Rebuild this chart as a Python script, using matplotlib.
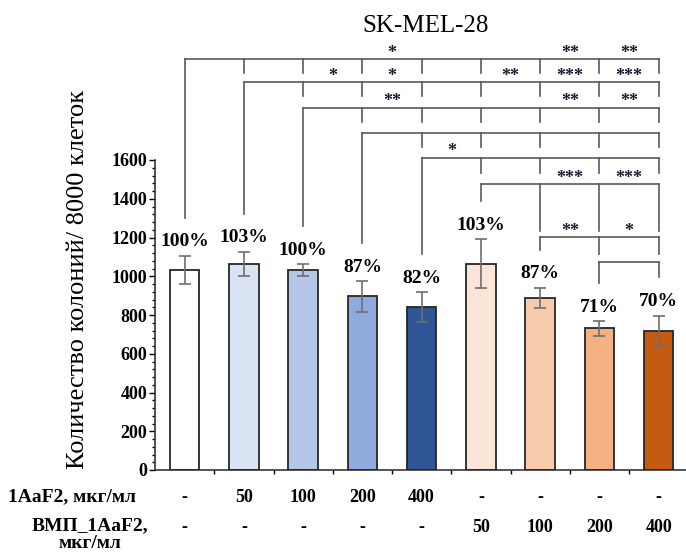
import numpy as np
import matplotlib
matplotlib.use("Agg")
import matplotlib.pyplot as plt
import matplotlib.transforms as mtransforms


#################### DATA ##############################################################

title = "SK-MEL-28"
ylabel = "Количество колоний/ 8000 клеток"

# concentrations under each bar, ug/ml
conc_1aaf2 = ['-', '50', '100', '200', '400', '-', '-', '-', '-']
conc_vmp = ['-', '-', '-', '-', '-', '50', '100', '200', '400']
row_names = ['1AaF2, мкг/мл', 'ВМП_1AaF2,\nмкг/мл']

# colonies per 8000 cells, mean and SD
colonies = [1032, 1065, 1032, 896, 841, 1065, 889, 731, 717]
errors = [74, 62, 29, 78, 77, 125, 52, 37, 79]
percents = ['100%', '103%', '100%', '87%', '82%', '103%', '87%', '71%', '70%']

# pairwise significance: (reference bar, compared bar, stars)
signif = [(0, 4, '*'), (0, 7, '**'), (0, 8, '**'),
          (1, 3, '*'), (1, 4, '*'), (1, 6, '**'), (1, 7, '***'), (1, 8, '***'),
          (2, 4, '**'), (2, 7, '**'), (2, 8, '**'),
          (4, 5, '*'),
          (5, 7, '***'), (5, 8, '***'),
          (6, 7, '**'), (6, 8, '*')]


#################### STYLE #############################################################

bar_colors = ['#ffffff', '#dae3f3', '#b4c7e7', '#8faadc', '#2f5597',
              '#fbe5d6', '#f8cbad', '#f4b183', '#c55a11']

# height of each comparison row and how far its ticks hang down (data units)
row_levels = [2120, 2001, 1870, 1741, 1612, 1475, 1202, 1073]
row_ticks = [72, 72, 72, 72, 80, 243, 86, 77]

serif = ['Liberation Serif', 'DejaVu Serif']
line_col = '#5a5a5a'


#################### PLOT ##############################################################

def main():
  plt.rcParams['font.family'] = serif

  fig = plt.figure(figsize=(6.86, 5.56), dpi=100)
  ax = fig.add_axes([155 / 686.0, 86 / 556.0, 531 / 686.0, 310 / 556.0])

  x = np.arange(1, len(colonies) + 1)

  ax.bar(x, colonies, width=0.5, color=bar_colors, edgecolor='#262626',
         linewidth=1.3, zorder=2)
  ax.errorbar(x, colonies, yerr=errors, fmt='none', ecolor='#6e6e6e',
              elinewidth=1.2, capsize=4, capthick=1.2, zorder=3)

  # percent of control above each error bar
  for xi, m, e, p in zip(x, colonies, errors, percents):
    ax.annotate(p, (xi, m + e), xytext=(0, 10), textcoords='offset points',
                ha='center', va='center', fontsize=14, fontweight='bold')

  ax.set_xlim(0.5, 0.5 + 531 / 59.25)
  ax.set_ylim(0, 1600)
  ax.set_yticks(np.arange(0, 1601, 200))
  ax.set_yticks(np.arange(0, 1601, 40), minor=True)
  ax.set_xticks([])
  ax.set_xticks(np.arange(1.5, len(colonies), 1.0), minor=True)
  ax.tick_params(axis='y', which='major', length=4, width=1, labelsize=13, pad=1.5)
  ax.tick_params(axis='y', which='minor', length=2.5, width=1)
  ax.tick_params(axis='x', which='minor', length=3, width=1)
  for lab in ax.get_yticklabels():
    lab.set_fontweight('bold')
  for side in ['top', 'right']:
    ax.spines[side].set_visible(False)
  for side in ['left', 'bottom']:
    ax.spines[side].set_linewidth(1.1)
    ax.spines[side].set_color('#262626')

  ax.set_ylabel(ylabel, fontsize=19)
  ax.yaxis.set_label_coords(-66 / 531.0, 191 / 310.0)

  fig.text(426 / 686.0, 1 - 26 / 556.0, title, ha='center', va='center',
           fontsize=18)

  #### significance brackets
  px = 310 / 1600.0   # pixels per data unit
  kw = dict(color=line_col, lw=1.2, clip_on=False, zorder=1)
  for ref, level in enumerate(row_levels):
    ax.plot([x[ref], x[-1]], [level, level], **kw)
    # drop from the reference bar down to its label
    ax.plot([x[ref], x[ref]], [level, colonies[ref] + errors[ref] + 38 / px], **kw)
    for k in range(ref + 1, len(x)):
      ax.plot([x[k], x[k]], [level, level - row_ticks[ref]], **kw)
  for ref, k, stars in signif:
    ax.annotate(stars, (x[k] - 0.5, row_levels[ref]), xytext=(0, 1),
                textcoords='offset points', ha='center', va='baseline',
                fontsize=13, fontweight='bold', color='#1a1a2e',
                annotation_clip=False)

  #### concentration table under the axis
  trans = mtransforms.blended_transform_factory(ax.transData, fig.transFigure)
  for xi, a, b in zip(x, conc_1aaf2, conc_vmp):
    ax.text(xi, 1 - 497 / 556.0, a, transform=trans, ha='center', va='center',
            fontsize=13, fontweight='bold')
    ax.text(xi, 1 - 527 / 556.0, b, transform=trans, ha='center', va='center',
            fontsize=13, fontweight='bold')
  fig.text(8 / 686.0, 1 - 497 / 556.0, row_names[0], ha='left', va='center',
           fontsize=14, fontweight='bold')
  fig.text(90 / 686.0, 1 - 517 / 556.0, row_names[1], ha='center', va='top',
           fontsize=14, fontweight='bold', multialignment='center',
           linespacing=1.05)

  plt.savefig('out.png', dpi=100)


if __name__ == "__main__":
  main()
